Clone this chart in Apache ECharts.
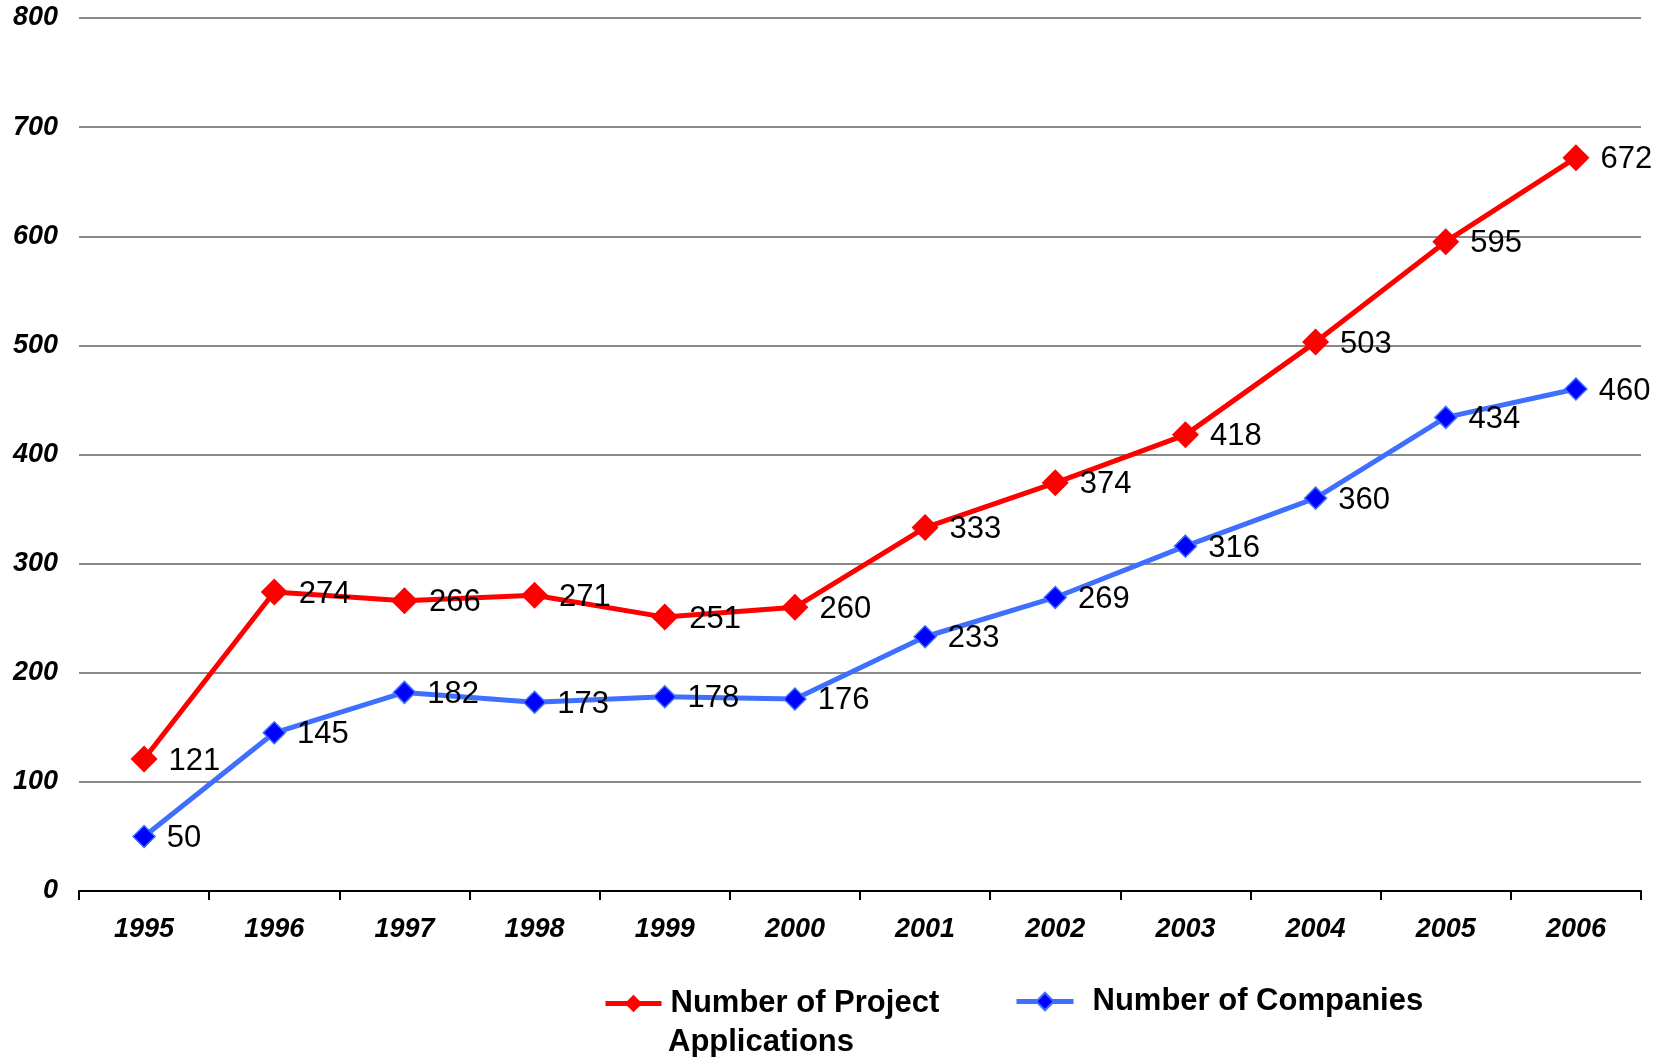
<!DOCTYPE html>
<html>
<head>
<meta charset="utf-8">
<script src="https://cdn.jsdelivr.net/npm/echarts@6/dist/echarts.min.js"></script>
<style>
html,body{margin:0;padding:0;background:#fff;}
#chart{width:1674px;height:1057px;}
</style>
</head>
<body>
<div id="chart"></div>
<script>
const years = ['1995','1996','1997','1998','1999','2000','2001','2002','2003','2004','2005','2006'];
const projectApplications = [121,274,266,271,251,260,333,374,418,503,595,672];
const companies = [50,145,182,173,178,176,233,269,316,360,434,460];
const yTicks = [0,100,200,300,400,500,600,700,800];
const nameProjects = 'Number of Project Applications';
const legendProjectsLine1 = 'Number of Project';
const legendProjectsLine2 = 'Applications';
const nameCompanies = 'Number of Companies';

const FONT = '"Liberation Sans", Arial, Helvetica, sans-serif';
const chart = echarts.init(document.getElementById('chart'), null, {renderer:'canvas'});
const labelStyle = {show:true, position:'right', distance:11, color:'#000', fontSize:31, fontFamily:FONT, offset:[0,2]};

chart.setOption({
  animation:false,
  backgroundColor:'#fff',
  grid:{left:79, right:33, top:18, bottom:1057-891, containLabel:false},
  legend:[{
    data:[nameProjects],
    formatter:function(){ return legendProjectsLine1; },
    left:603, top:985, padding:0,
    itemWidth:56, itemHeight:22, itemGap:0,
    lineStyle:{width:5},
    textStyle:{fontSize:31, fontWeight:'bold', fontFamily:FONT, color:'#000', lineHeight:37, padding:[0,0,0,4]}
  },{
    data:[nameCompanies],
    left:1014, top:983, padding:0,
    itemWidth:57, itemHeight:22,
    lineStyle:{width:5},
    textStyle:{fontSize:31, fontWeight:'bold', fontFamily:FONT, color:'#000', lineHeight:37, padding:[0,0,0,14]}
  }],
  graphic:[{
    type:'text', left:668, top:1027,
    style:{text:legendProjectsLine2, font:'bold 31px ' + FONT, fill:'#000'}
  }],
  xAxis:{
    type:'category', data:years, boundaryGap:true,
    axisLine:{show:true, lineStyle:{color:'#000', width:2}},
    axisTick:{show:true, inside:false, length:9, alignWithLabel:false, lineStyle:{color:'#000', width:2}},
    axisLabel:{margin:25, fontSize:27, fontWeight:'bold', fontStyle:'italic', fontFamily:FONT, color:'#000'},
    splitLine:{show:false}
  },
  yAxis:{
    type:'value', min:0, max:800, interval:100,
    axisLine:{show:false}, axisTick:{show:false},
    axisLabel:{margin:21, fontSize:27, fontWeight:'bold', fontStyle:'italic', fontFamily:FONT, color:'#000'},
    splitLine:{show:true, lineStyle:{color:'#8a8a8a', width:2}}
  },
  series:[{
    name:nameProjects, type:'line', data:projectApplications,
    symbol:'diamond', symbolSize:27,
    lineStyle:{color:'#ff0000', width:5},
    itemStyle:{color:'#ff0000', borderColor:'#ff0000', borderWidth:0},
    label:labelStyle, z:3
  },{
    name:nameCompanies, type:'line', data:companies,
    symbol:'diamond', symbolSize:22,
    lineStyle:{color:'#3f6fff', width:5},
    itemStyle:{color:'#0000ff', borderColor:'#3f6fff', borderWidth:1.5},
    label:labelStyle, z:2
  }]
});
</script>
</body>
</html>
